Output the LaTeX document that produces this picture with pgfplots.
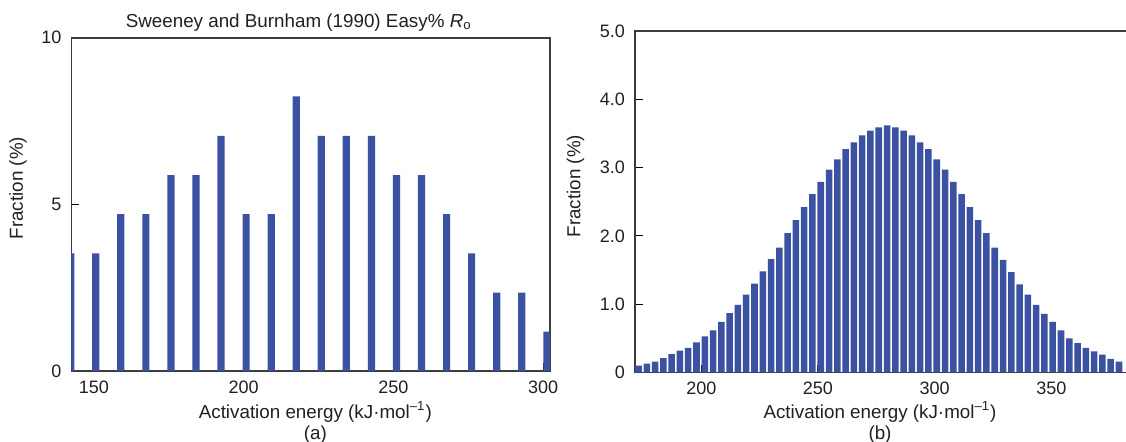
\documentclass[border=0pt]{standalone}
\usepackage{fontspec}
\setmainfont{Liberation Sans}
\usepackage{pgfplots}
\pgfplotsset{compat=1.18}
\definecolor{barblue}{RGB}{59,82,163}
\definecolor{axgray}{RGB}{60,60,60}
\definecolor{txt}{RGB}{35,31,32}
\begin{document}
\begin{tikzpicture}
\useasboundingbox (0,0) rectangle (563pt,-221pt);
\pgfplotsset{
  every axis/.append style={
    scale only axis,
    axis line style={axgray, line width=0.75pt},
    tick style={black, line width=0.55pt},
    tick align=inside,
    xtick pos=bottom, ytick pos=left,
    major tick length=3.8pt,
    tick label style={font=\fontsize{9}{10}\selectfont, text=txt},
    label style={font=\fontsize{9.4}{10.5}\selectfont, text=txt},
    title style={font=\fontsize{9.4}{10.5}\selectfont, text=txt},
    /pgf/number format/assume math mode=true,
    ymin=0,
    yticklabel style={anchor=east, xshift=-1.5pt},
  }
}
% ---------------- (a) ----------------
\begin{axis}[
  at={(35.7pt,-185.5pt)}, anchor=south west,
  width=239.3pt, height=166.6pt,
  xmin=142.5, xmax=302.3, ymax=10,
  xtick={150,200,250,300}, ytick={0,5,10},
  yticklabels={0,5,10},
  xticklabel style={anchor=base, yshift=-11.4pt},
  xlabel={Activation energy (kJ·mol\textsuperscript{–1})\\(a)},
  xlabel style={align=center, at={(rel axis cs:0.5,0)}, anchor=center, yshift=-25.8pt, xshift=2.3pt},
  ylabel={Fraction (\%)},
  ylabel style={at={(rel axis cs:-0.1118,0.549)}, anchor=center},
  title={Sweeney and Burnham (1990) Easy\% \textit{R}\textsubscript{o}},
  title style={at={(rel axis cs:0.475,1.053)}, anchor=center, yshift=-7.5pt},
]
\addplot[ybar, bar width=2.4, fill=barblue, draw=none] coordinates {
(142.26,3.53) (150.62,3.53) (158.99,4.71) (167.36,4.71) (175.73,5.88)
(184.10,5.88) (192.46,7.06) (200.83,4.71) (209.20,4.71) (217.57,8.24)
(225.94,7.06) (234.30,7.06) (242.67,7.06) (251.04,5.88) (259.41,5.88)
(267.78,4.71) (276.14,3.53) (284.51,2.35) (292.88,2.35) (301.25,1.18)
};
\end{axis}
% ---------------- (b) ----------------
\begin{axis}[
  at={(317.5pt,-186.25pt)}, anchor=south west,
  width=249.0pt, height=170.75pt,
  xmin=171.6, xmax=385, ymax=5,
  xtick={200,250,300,350}, ytick={0,1,2,3,4,5},
  yticklabels={0,1.0,2.0,3.0,4.0,5.0},
  xticklabel style={anchor=base, yshift=-10.8pt},
  xlabel={Activation energy (kJ·mol\textsuperscript{–1})\\(b)},
  xlabel style={align=center, at={(rel axis cs:0.5,0)}, anchor=center, yshift=-25pt, xshift=-2pt},
  ylabel={Fraction (\%)},
  ylabel style={at={(rel axis cs:-0.1197,0.546)}, anchor=center},
]
\addplot[ybar, bar width=2.8, fill=barblue, draw=none] coordinates {
(173.10,0.10) (176.65,0.13) (180.20,0.16) (183.75,0.21) (187.30,0.27)
(190.85,0.32) (194.40,0.36) (197.95,0.44) (201.50,0.53) (205.05,0.615)
(208.60,0.74) (212.15,0.87) (215.70,0.99) (219.25,1.14) (222.80,1.30)
(226.35,1.48) (229.90,1.66) (233.45,1.83) (237.00,2.04) (240.55,2.23)
(244.10,2.42) (247.65,2.61) (251.20,2.79) (254.75,2.97) (258.30,3.12)
(261.85,3.27) (265.40,3.37) (268.95,3.47) (272.50,3.54) (276.05,3.59)
(279.60,3.62) (283.15,3.59) (286.70,3.54) (290.25,3.47) (293.80,3.37)
(297.35,3.27) (300.90,3.12) (304.45,2.97) (308.00,2.79) (311.55,2.61)
(315.10,2.42) (318.65,2.23) (322.20,2.04) (325.75,1.83) (329.30,1.65)
(332.85,1.47) (336.40,1.29) (339.95,1.14) (343.50,0.99) (347.05,0.86)
(350.60,0.74) (354.15,0.615) (357.70,0.50) (361.25,0.43) (364.80,0.36)
(368.35,0.31) (371.90,0.26) (375.45,0.20) (379.00,0.16)
};
\end{axis}
\end{tikzpicture}
\end{document}
